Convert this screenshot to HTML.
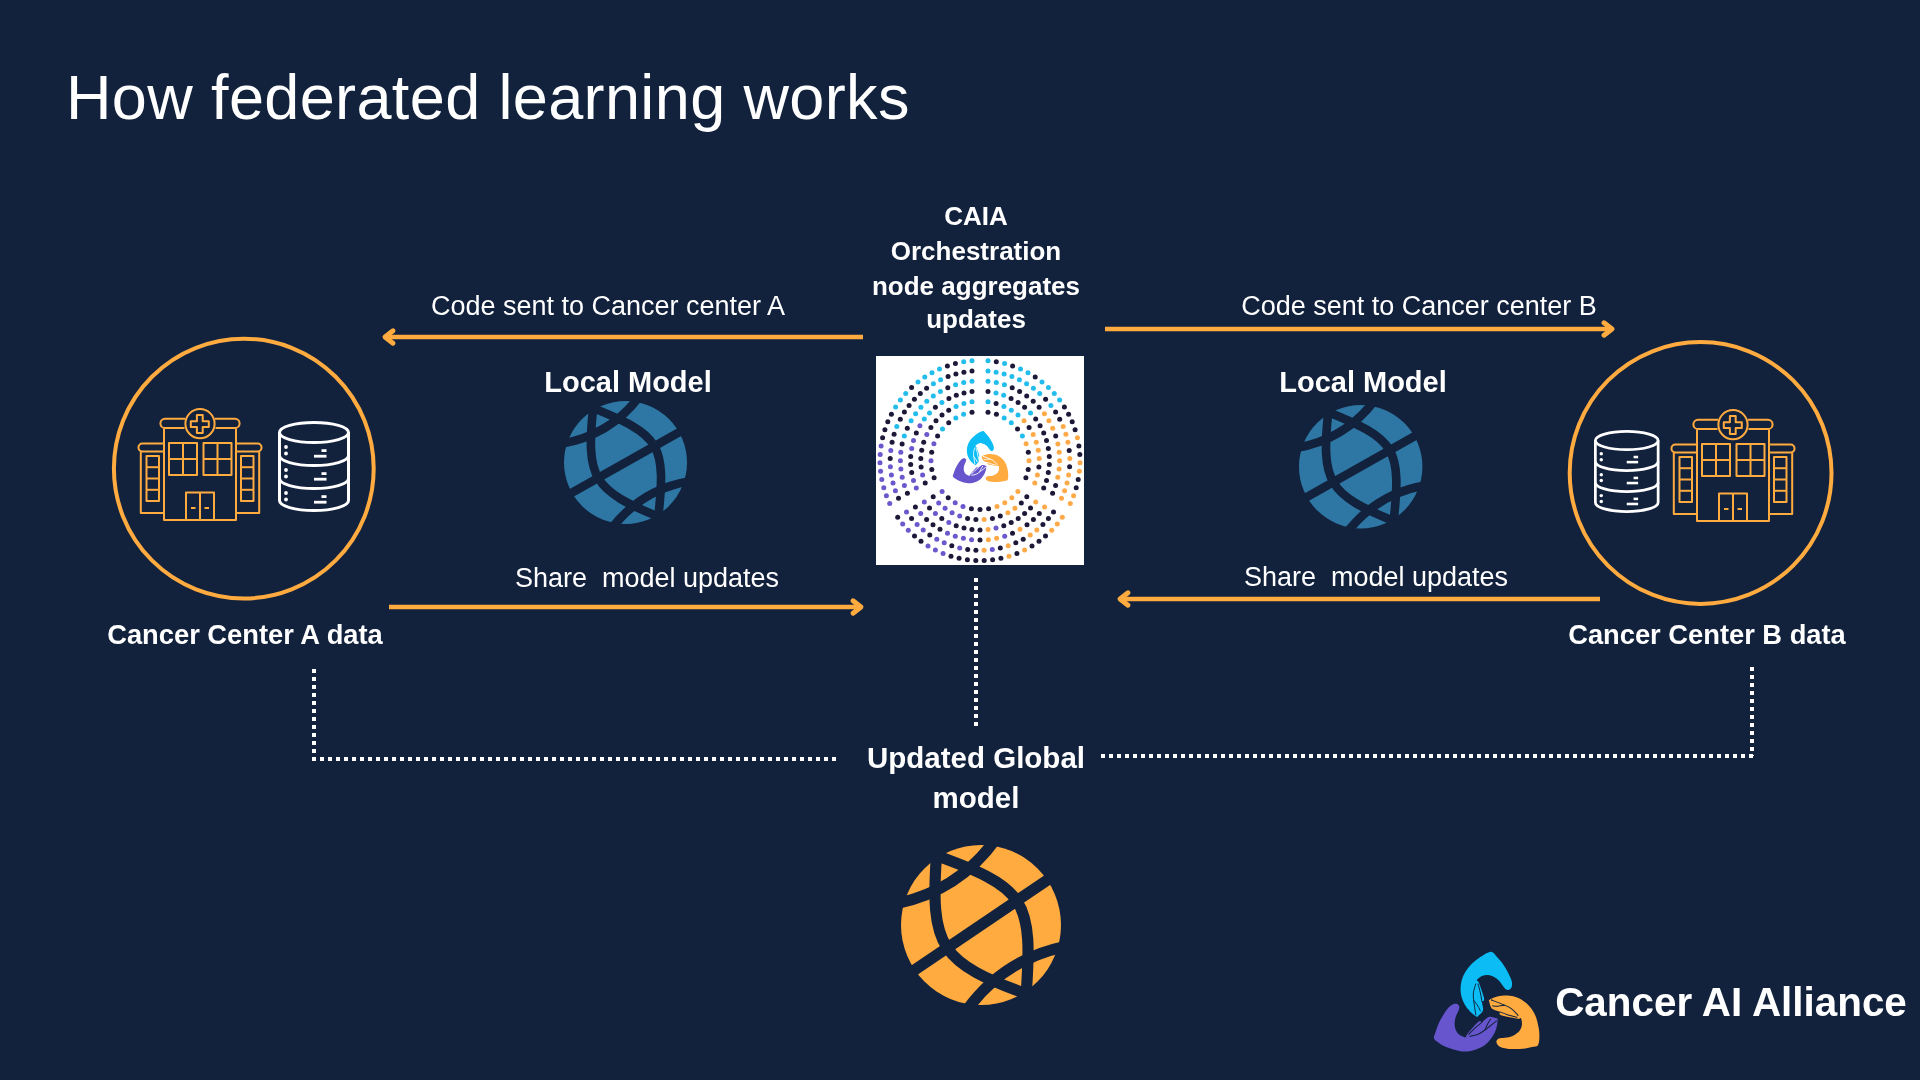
<!DOCTYPE html>
<html><head><meta charset="utf-8"><style>
html,body{margin:0;padding:0;}
body{width:1920px;height:1080px;overflow:hidden;background:#12223d;position:relative;font-family:"Liberation Sans",sans-serif;color:#fff;}
</style></head><body>
<div style="position:absolute;left:65.8px;top:66.07px;font-size:63px;font-weight:normal;letter-spacing:0.37px;white-space:pre;will-change:transform;line-height:1;">How federated learning works</div>
<svg style="position:absolute;left:0;top:0" width="1920" height="1080"><circle cx="243.8" cy="468.6" r="129.9" fill="none" stroke="#ffab40" stroke-width="4"/><circle cx="1700.6" cy="473" r="130.9" fill="none" stroke="#ffab40" stroke-width="4"/></svg>
<svg style="position:absolute;left:138px;top:408px;overflow:visible" width="125" height="113" viewBox="0 0 125 113">
<g fill="none" stroke="#ffab40" stroke-width="2.0" stroke-linejoin="round">
<path d="M 46.5,20 H 27 A 4.6,4.6 0 0 1 27,10.8 H 47"/>
<path d="M 77.5,20 H 97 A 4.6,4.6 0 0 0 97,10.8 H 77"/>
<circle cx="62" cy="15.7" r="14.6"/>
<path d="M 58.9,7.1 H 64.7 V 13.2 H 70.8 V 19 H 64.7 V 25.1 H 58.9 V 19 H 52.8 V 13.2 H 58.9 Z"/>
<path d="M 26,20.5 V 112 H 98 V 20.5"/>
<rect x="31" y="35" width="28" height="32"/>
<line x1="45" y1="35" x2="45" y2="67"/><line x1="31" y1="51" x2="59" y2="51"/>
<rect x="65.5" y="35" width="28" height="32"/>
<line x1="79.5" y1="35" x2="79.5" y2="67"/><line x1="65.5" y1="51" x2="93.5" y2="51"/>
<path d="M 25,43.5 H 4.4 A 3.95,3.95 0 0 1 4.4,35.6 H 25.5"/>
<path d="M 99,43.5 H 119.6 A 3.95,3.95 0 0 0 119.6,35.6 H 98.5"/>
<path d="M 2.8,43.5 V 105 H 25"/>
<path d="M 121.2,43.5 V 105 H 99"/>
<rect x="8.5" y="48" width="12.5" height="45"/>
<line x1="8.5" y1="59.2" x2="21" y2="59.2"/><line x1="8.5" y1="70.5" x2="21" y2="70.5"/><line x1="8.5" y1="81.8" x2="21" y2="81.8"/>
<rect x="103" y="48" width="12.5" height="45"/>
<line x1="103" y1="59.2" x2="115.5" y2="59.2"/><line x1="103" y1="70.5" x2="115.5" y2="70.5"/><line x1="103" y1="81.8" x2="115.5" y2="81.8"/>
<path d="M 48,112 V 84.5 H 76 V 112"/>
<line x1="62" y1="84.5" x2="62" y2="112"/>
<line x1="53" y1="100" x2="57.5" y2="100"/><line x1="66.5" y1="100" x2="71" y2="100"/>
</g></svg>
<svg style="position:absolute;left:278px;top:421px;overflow:visible" width="72" height="91" viewBox="0 0 72 91">
<g fill="none" stroke="#fff" stroke-width="3">
<ellipse cx="36" cy="11.5" rx="34.5" ry="10"/>
<path d="M 1.5,11.5 V 79.5 A 34.5,10 0 0 0 70.5,79.5 V 11.5"/>
<path d="M 1.5,34.5 A 34.5,10 0 0 0 70.5,34.5"/>
<path d="M 1.5,57.5 A 34.5,10 0 0 0 70.5,57.5"/>
</g>
<g fill="#fff">
<circle cx="8" cy="26" r="1.9"/><circle cx="8" cy="32.5" r="1.9"/>
<circle cx="8" cy="49" r="1.9"/><circle cx="8" cy="55.5" r="1.9"/>
<circle cx="8" cy="72" r="1.9"/><circle cx="8" cy="78.5" r="1.9"/>
<rect x="43.5" y="28.2" width="5" height="2.8"/><rect x="36" y="33.8" width="12.5" height="2.8"/>
<rect x="43.5" y="51.2" width="5" height="2.8"/><rect x="36" y="56.8" width="12.5" height="2.8"/>
<rect x="43.5" y="74.2" width="5" height="2.8"/><rect x="36" y="79.8" width="12.5" height="2.8"/>
</g></svg>
<svg style="position:absolute;left:1671px;top:409px;overflow:visible" width="125" height="113" viewBox="0 0 125 113">
<g fill="none" stroke="#ffab40" stroke-width="2.0" stroke-linejoin="round">
<path d="M 46.5,20 H 27 A 4.6,4.6 0 0 1 27,10.8 H 47"/>
<path d="M 77.5,20 H 97 A 4.6,4.6 0 0 0 97,10.8 H 77"/>
<circle cx="62" cy="15.7" r="14.6"/>
<path d="M 58.9,7.1 H 64.7 V 13.2 H 70.8 V 19 H 64.7 V 25.1 H 58.9 V 19 H 52.8 V 13.2 H 58.9 Z"/>
<path d="M 26,20.5 V 112 H 98 V 20.5"/>
<rect x="31" y="35" width="28" height="32"/>
<line x1="45" y1="35" x2="45" y2="67"/><line x1="31" y1="51" x2="59" y2="51"/>
<rect x="65.5" y="35" width="28" height="32"/>
<line x1="79.5" y1="35" x2="79.5" y2="67"/><line x1="65.5" y1="51" x2="93.5" y2="51"/>
<path d="M 25,43.5 H 4.4 A 3.95,3.95 0 0 1 4.4,35.6 H 25.5"/>
<path d="M 99,43.5 H 119.6 A 3.95,3.95 0 0 0 119.6,35.6 H 98.5"/>
<path d="M 2.8,43.5 V 105 H 25"/>
<path d="M 121.2,43.5 V 105 H 99"/>
<rect x="8.5" y="48" width="12.5" height="45"/>
<line x1="8.5" y1="59.2" x2="21" y2="59.2"/><line x1="8.5" y1="70.5" x2="21" y2="70.5"/><line x1="8.5" y1="81.8" x2="21" y2="81.8"/>
<rect x="103" y="48" width="12.5" height="45"/>
<line x1="103" y1="59.2" x2="115.5" y2="59.2"/><line x1="103" y1="70.5" x2="115.5" y2="70.5"/><line x1="103" y1="81.8" x2="115.5" y2="81.8"/>
<path d="M 48,112 V 84.5 H 76 V 112"/>
<line x1="62" y1="84.5" x2="62" y2="112"/>
<line x1="53" y1="100" x2="57.5" y2="100"/><line x1="66.5" y1="100" x2="71" y2="100"/>
</g></svg>
<svg style="position:absolute;left:1594px;top:429.5px;overflow:visible" width="65.5" height="83" viewBox="0 0 72 91">
<g fill="none" stroke="#fff" stroke-width="3">
<ellipse cx="36" cy="11.5" rx="34.5" ry="10"/>
<path d="M 1.5,11.5 V 79.5 A 34.5,10 0 0 0 70.5,79.5 V 11.5"/>
<path d="M 1.5,34.5 A 34.5,10 0 0 0 70.5,34.5"/>
<path d="M 1.5,57.5 A 34.5,10 0 0 0 70.5,57.5"/>
</g>
<g fill="#fff">
<circle cx="8" cy="26" r="1.9"/><circle cx="8" cy="32.5" r="1.9"/>
<circle cx="8" cy="49" r="1.9"/><circle cx="8" cy="55.5" r="1.9"/>
<circle cx="8" cy="72" r="1.9"/><circle cx="8" cy="78.5" r="1.9"/>
<rect x="43.5" y="28.2" width="5" height="2.8"/><rect x="36" y="33.8" width="12.5" height="2.8"/>
<rect x="43.5" y="51.2" width="5" height="2.8"/><rect x="36" y="56.8" width="12.5" height="2.8"/>
<rect x="43.5" y="74.2" width="5" height="2.8"/><rect x="36" y="79.8" width="12.5" height="2.8"/>
</g></svg>
<div style="position:absolute;left:207.5px;top:293.14px;font-size:27px;font-weight:normal;letter-spacing:0px;white-space:pre;will-change:transform;width:800px;text-align:center;line-height:1;">Code sent to Cancer center A</div>
<div style="position:absolute;left:1019.4000000000001px;top:292.74px;font-size:27px;font-weight:normal;letter-spacing:0px;white-space:pre;will-change:transform;width:800px;text-align:center;line-height:1;">Code sent to Cancer center B</div>
<div style="position:absolute;left:575.5px;top:202.89px;font-size:26px;font-weight:bold;letter-spacing:0px;white-space:pre;will-change:transform;width:800px;text-align:center;line-height:1;">CAIA</div>
<div style="position:absolute;left:575.5px;top:238.29px;font-size:26px;font-weight:bold;letter-spacing:0px;white-space:pre;will-change:transform;width:800px;text-align:center;line-height:1;">Orchestration</div>
<div style="position:absolute;left:575.5px;top:272.79px;font-size:26px;font-weight:bold;letter-spacing:0px;white-space:pre;will-change:transform;width:800px;text-align:center;line-height:1;">node aggregates</div>
<div style="position:absolute;left:575.5px;top:306.49px;font-size:26px;font-weight:bold;letter-spacing:0px;white-space:pre;will-change:transform;width:800px;text-align:center;line-height:1;">updates</div>
<div style="position:absolute;left:228.39999999999998px;top:368.15px;font-size:29px;font-weight:bold;letter-spacing:0px;white-space:pre;will-change:transform;width:800px;text-align:center;line-height:1;">Local Model</div>
<div style="position:absolute;left:963.2px;top:368.15px;font-size:29px;font-weight:bold;letter-spacing:0px;white-space:pre;will-change:transform;width:800px;text-align:center;line-height:1;">Local Model</div>
<div style="position:absolute;left:246.60000000000002px;top:564.64px;font-size:27px;font-weight:normal;letter-spacing:0px;white-space:pre;will-change:transform;width:800px;text-align:center;line-height:1;">Share&nbsp; model updates</div>
<div style="position:absolute;left:975.5999999999999px;top:564.14px;font-size:27px;font-weight:normal;letter-spacing:0px;white-space:pre;will-change:transform;width:800px;text-align:center;line-height:1;">Share&nbsp; model updates</div>
<div style="position:absolute;left:-155.5px;top:621.39px;font-size:27.3px;font-weight:bold;letter-spacing:0px;white-space:pre;will-change:transform;width:800px;text-align:center;line-height:1;">Cancer Center A data</div>
<div style="position:absolute;left:1306.9px;top:621.39px;font-size:27.3px;font-weight:bold;letter-spacing:0px;white-space:pre;will-change:transform;width:800px;text-align:center;line-height:1;">Cancer Center B data</div>
<div style="position:absolute;left:576px;top:743.03px;font-size:29.5px;font-weight:bold;letter-spacing:0px;white-space:pre;will-change:transform;width:800px;text-align:center;line-height:1;">Updated Global</div>
<div style="position:absolute;left:575.9px;top:782.83px;font-size:29.5px;font-weight:bold;letter-spacing:0px;white-space:pre;will-change:transform;width:800px;text-align:center;line-height:1;">model</div>
<div style="position:absolute;left:1331.2px;top:981.8px;font-size:40.4px;font-weight:bold;letter-spacing:0px;white-space:pre;will-change:transform;width:800px;text-align:center;line-height:1;">Cancer AI Alliance</div>
<svg style="position:absolute;left:373px;top:325px" width="500" height="24"><line x1="12" y1="12" x2="490" y2="12" stroke="#ffab40" stroke-width="4.4"/><polyline points="20,5.8 12,12 20,18.2" fill="none" stroke="#ffab40" stroke-width="4.9" stroke-linecap="round" stroke-linejoin="round"/></svg>
<svg style="position:absolute;left:1095px;top:317px" width="529" height="24"><line x1="10" y1="12" x2="517" y2="12" stroke="#ffab40" stroke-width="4.4"/><polyline points="509,5.8 517,12 509,18.2" fill="none" stroke="#ffab40" stroke-width="4.9" stroke-linecap="round" stroke-linejoin="round"/></svg>
<svg style="position:absolute;left:379px;top:595.0px" width="494" height="24"><line x1="10" y1="12" x2="482" y2="12" stroke="#ffab40" stroke-width="4.4"/><polyline points="474,5.8 482,12 474,18.2" fill="none" stroke="#ffab40" stroke-width="4.9" stroke-linecap="round" stroke-linejoin="round"/></svg>
<svg style="position:absolute;left:1108px;top:587px" width="502" height="24"><line x1="12" y1="12" x2="492" y2="12" stroke="#ffab40" stroke-width="4.4"/><polyline points="20,5.8 12,12 20,18.2" fill="none" stroke="#ffab40" stroke-width="4.9" stroke-linecap="round" stroke-linejoin="round"/></svg>
<svg style="position:absolute;left:562.4px;top:399.1px" width="127.0" height="127.0" viewBox="-103.252 -103.252 206.504 206.504">
<defs><clipPath id="gb1"><circle cx="0" cy="0" r="102"/></clipPath></defs>
<circle cx="0" cy="0" r="100" fill="#2e76a3"/>
<g clip-path="url(#gb1)" transform="rotate(-31)" fill="none" stroke="#12223d" stroke-width="14">
<line x1="-110" y1="-3" x2="110" y2="3"/>
<path d="M -1,-101 C -31,-61 -51,-30 -51,0 C -51,30 -31,61 -1,101"/><path d="M 2,-101 C 32,-61 54,-30 54,0 C 54,30 32,61 2,101"/>
<path d="M -100,-92 Q 0,-39 100,-92"/>
<path d="M -100,92 Q 0,39 100,92"/>
</g></svg>
<svg style="position:absolute;left:1297.1px;top:403.3px" width="127.4" height="127.4" viewBox="-103.241 -103.241 206.483 206.483">
<defs><clipPath id="gb2"><circle cx="0" cy="0" r="102"/></clipPath></defs>
<circle cx="0" cy="0" r="100" fill="#2e76a3"/>
<g clip-path="url(#gb2)" transform="rotate(-31)" fill="none" stroke="#12223d" stroke-width="14">
<line x1="-110" y1="-3" x2="110" y2="3"/>
<path d="M -1,-101 C -31,-61 -51,-30 -51,0 C -51,30 -31,61 -1,101"/><path d="M 2,-101 C 32,-61 54,-30 54,0 C 54,30 32,61 2,101"/>
<path d="M -100,-92 Q 0,-39 100,-92"/>
<path d="M -100,92 Q 0,39 100,92"/>
</g></svg>
<svg style="position:absolute;left:899.0px;top:842.5px" width="164.0" height="164.0" viewBox="-102.500 -102.500 205.000 205.000">
<defs><clipPath id="go"><circle cx="0" cy="0" r="102"/></clipPath></defs>
<circle cx="0" cy="0" r="100" fill="#ffab40"/>
<g clip-path="url(#go)" transform="rotate(-33)" fill="none" stroke="#12223d" stroke-width="14">
<line x1="-110" y1="2" x2="110" y2="-2"/>
<path d="M -1,-101 C -31,-61 -51,-30 -51,0 C -51,30 -31,61 -1,101"/><path d="M 2,-101 C 32,-61 54,-30 54,0 C 54,30 32,61 2,101"/>
<path d="M -100,-92 Q 0,-39 100,-92"/>
<path d="M -100,92 Q 0,39 100,92"/>
</g></svg>
<svg style="position:absolute;left:876px;top:356px" width="208" height="209" viewBox="0 0 208 209"><rect width="208" height="209" fill="#fff"/><circle cx="112.0" cy="56.2" r="2.5" fill="#1c1838"/>
<circle cx="120.4" cy="58.3" r="2.5" fill="#1c1838"/>
<circle cx="128.2" cy="61.9" r="2.5" fill="#22bdec"/>
<circle cx="135.3" cy="66.8" r="2.5" fill="#22bdec"/>
<circle cx="141.5" cy="72.9" r="2.5" fill="#1c1838"/>
<circle cx="146.4" cy="80.0" r="2.5" fill="#22bdec"/>
<circle cx="150.1" cy="87.8" r="2.5" fill="#ffaa48"/>
<circle cx="152.3" cy="96.2" r="2.5" fill="#1c1838"/>
<circle cx="153.0" cy="104.8" r="2.5" fill="#ffaa48"/>
<circle cx="152.2" cy="113.4" r="2.5" fill="#1c1838"/>
<circle cx="149.9" cy="121.7" r="2.5" fill="#1c1838"/>
<circle cx="141.9" cy="135.6" r="2.5" fill="#ffaa48"/>
<circle cx="135.8" cy="141.8" r="2.5" fill="#ffaa48"/>
<circle cx="128.8" cy="146.8" r="2.5" fill="#ffaa48"/>
<circle cx="121.0" cy="150.5" r="2.5" fill="#ffaa48"/>
<circle cx="112.6" cy="152.7" r="2.5" fill="#1c1838"/>
<circle cx="104.0" cy="153.5" r="2.5" fill="#1c1838"/>
<circle cx="95.4" cy="152.7" r="2.5" fill="#1c1838"/>
<circle cx="87.0" cy="150.5" r="2.5" fill="#6a58cc"/>
<circle cx="79.2" cy="146.8" r="2.5" fill="#6a58cc"/>
<circle cx="72.2" cy="141.8" r="2.5" fill="#1c1838"/>
<circle cx="66.1" cy="135.6" r="2.5" fill="#6a58cc"/>
<circle cx="58.1" cy="121.7" r="2.5" fill="#1c1838"/>
<circle cx="55.8" cy="113.4" r="2.5" fill="#1c1838"/>
<circle cx="55.0" cy="104.8" r="2.5" fill="#6a58cc"/>
<circle cx="55.7" cy="96.2" r="2.5" fill="#1c1838"/>
<circle cx="57.9" cy="87.8" r="2.5" fill="#6a58cc"/>
<circle cx="61.6" cy="80.0" r="2.5" fill="#1c1838"/>
<circle cx="66.5" cy="72.9" r="2.5" fill="#22bdec"/>
<circle cx="72.7" cy="66.8" r="2.5" fill="#1c1838"/>
<circle cx="79.8" cy="61.9" r="2.5" fill="#22bdec"/>
<circle cx="87.6" cy="58.3" r="2.5" fill="#22bdec"/>
<circle cx="96.0" cy="56.2" r="2.5" fill="#1c1838"/>
<circle cx="112.0" cy="45.8" r="2.5" fill="#22bdec"/>
<circle cx="120.1" cy="47.5" r="2.5" fill="#1c1838"/>
<circle cx="127.9" cy="50.4" r="2.5" fill="#22bdec"/>
<circle cx="135.3" cy="54.2" r="2.5" fill="#22bdec"/>
<circle cx="142.0" cy="59.1" r="2.5" fill="#22bdec"/>
<circle cx="148.0" cy="64.8" r="2.5" fill="#ffaa48"/>
<circle cx="153.1" cy="71.4" r="2.5" fill="#1c1838"/>
<circle cx="157.2" cy="78.6" r="2.5" fill="#ffaa48"/>
<circle cx="160.3" cy="86.3" r="2.5" fill="#ffaa48"/>
<circle cx="162.3" cy="94.3" r="2.5" fill="#ffaa48"/>
<circle cx="163.2" cy="102.6" r="2.5" fill="#ffaa48"/>
<circle cx="162.9" cy="110.9" r="2.5" fill="#1c1838"/>
<circle cx="161.4" cy="119.0" r="2.5" fill="#ffaa48"/>
<circle cx="158.8" cy="126.9" r="2.5" fill="#ffaa48"/>
<circle cx="150.8" cy="140.8" r="2.5" fill="#1c1838"/>
<circle cx="145.3" cy="146.9" r="2.5" fill="#1c1838"/>
<circle cx="138.9" cy="152.3" r="2.5" fill="#ffaa48"/>
<circle cx="131.9" cy="156.7" r="2.5" fill="#ffaa48"/>
<circle cx="124.3" cy="160.1" r="2.5" fill="#1c1838"/>
<circle cx="116.4" cy="162.4" r="2.5" fill="#1c1838"/>
<circle cx="108.1" cy="163.6" r="2.5" fill="#ffaa48"/>
<circle cx="99.9" cy="163.6" r="2.5" fill="#1c1838"/>
<circle cx="91.6" cy="162.4" r="2.5" fill="#1c1838"/>
<circle cx="83.7" cy="160.1" r="2.5" fill="#6a58cc"/>
<circle cx="76.1" cy="156.7" r="2.5" fill="#6a58cc"/>
<circle cx="69.1" cy="152.3" r="2.5" fill="#6a58cc"/>
<circle cx="62.7" cy="146.9" r="2.5" fill="#6a58cc"/>
<circle cx="57.2" cy="140.8" r="2.5" fill="#1c1838"/>
<circle cx="49.2" cy="126.9" r="2.5" fill="#1c1838"/>
<circle cx="46.6" cy="119.0" r="2.5" fill="#6a58cc"/>
<circle cx="45.1" cy="110.9" r="2.5" fill="#1c1838"/>
<circle cx="44.8" cy="102.6" r="2.5" fill="#1c1838"/>
<circle cx="45.7" cy="94.3" r="2.5" fill="#1c1838"/>
<circle cx="47.7" cy="86.3" r="2.5" fill="#1c1838"/>
<circle cx="50.8" cy="78.6" r="2.5" fill="#6a58cc"/>
<circle cx="54.9" cy="71.4" r="2.5" fill="#1c1838"/>
<circle cx="60.0" cy="64.8" r="2.5" fill="#1c1838"/>
<circle cx="66.0" cy="59.1" r="2.5" fill="#1c1838"/>
<circle cx="72.7" cy="54.2" r="2.5" fill="#1c1838"/>
<circle cx="80.1" cy="50.4" r="2.5" fill="#22bdec"/>
<circle cx="87.9" cy="47.5" r="2.5" fill="#22bdec"/>
<circle cx="96.0" cy="45.8" r="2.5" fill="#22bdec"/>
<circle cx="112.0" cy="35.6" r="2.5" fill="#1c1838"/>
<circle cx="120.0" cy="37.0" r="2.5" fill="#22bdec"/>
<circle cx="127.7" cy="39.3" r="2.5" fill="#22bdec"/>
<circle cx="135.1" cy="42.5" r="2.5" fill="#1c1838"/>
<circle cx="142.1" cy="46.5" r="2.5" fill="#1c1838"/>
<circle cx="148.6" cy="51.3" r="2.5" fill="#1c1838"/>
<circle cx="154.5" cy="56.9" r="2.5" fill="#22bdec"/>
<circle cx="159.7" cy="63.1" r="2.5" fill="#1c1838"/>
<circle cx="164.1" cy="69.8" r="2.5" fill="#1c1838"/>
<circle cx="167.7" cy="77.0" r="2.5" fill="#1c1838"/>
<circle cx="170.5" cy="84.6" r="2.5" fill="#1c1838"/>
<circle cx="172.3" cy="92.5" r="2.5" fill="#1c1838"/>
<circle cx="173.3" cy="100.5" r="2.5" fill="#1c1838"/>
<circle cx="173.3" cy="108.6" r="2.5" fill="#1c1838"/>
<circle cx="172.3" cy="116.6" r="2.5" fill="#1c1838"/>
<circle cx="170.5" cy="124.5" r="2.5" fill="#1c1838"/>
<circle cx="167.7" cy="132.0" r="2.5" fill="#1c1838"/>
<circle cx="159.7" cy="145.9" r="2.5" fill="#ffaa48"/>
<circle cx="154.5" cy="152.1" r="2.5" fill="#1c1838"/>
<circle cx="148.6" cy="157.6" r="2.5" fill="#1c1838"/>
<circle cx="142.2" cy="162.5" r="2.5" fill="#1c1838"/>
<circle cx="135.2" cy="166.5" r="2.5" fill="#1c1838"/>
<circle cx="127.8" cy="169.7" r="2.5" fill="#1c1838"/>
<circle cx="120.0" cy="172.0" r="2.5" fill="#6a58cc"/>
<circle cx="112.1" cy="173.4" r="2.5" fill="#ffaa48"/>
<circle cx="104.0" cy="173.9" r="2.5" fill="#1c1838"/>
<circle cx="95.9" cy="173.4" r="2.5" fill="#1c1838"/>
<circle cx="88.0" cy="172.0" r="2.5" fill="#1c1838"/>
<circle cx="80.2" cy="169.7" r="2.5" fill="#1c1838"/>
<circle cx="72.8" cy="166.5" r="2.5" fill="#6a58cc"/>
<circle cx="65.8" cy="162.5" r="2.5" fill="#1c1838"/>
<circle cx="59.4" cy="157.6" r="2.5" fill="#6a58cc"/>
<circle cx="53.5" cy="152.1" r="2.5" fill="#1c1838"/>
<circle cx="48.3" cy="145.9" r="2.5" fill="#6a58cc"/>
<circle cx="40.3" cy="132.0" r="2.5" fill="#6a58cc"/>
<circle cx="37.5" cy="124.5" r="2.5" fill="#6a58cc"/>
<circle cx="35.7" cy="116.6" r="2.5" fill="#1c1838"/>
<circle cx="34.7" cy="108.6" r="2.5" fill="#1c1838"/>
<circle cx="34.7" cy="100.5" r="2.5" fill="#1c1838"/>
<circle cx="35.7" cy="92.5" r="2.5" fill="#6a58cc"/>
<circle cx="37.5" cy="84.6" r="2.5" fill="#6a58cc"/>
<circle cx="40.3" cy="77.0" r="2.5" fill="#1c1838"/>
<circle cx="43.9" cy="69.8" r="2.5" fill="#6a58cc"/>
<circle cx="48.3" cy="63.1" r="2.5" fill="#22bdec"/>
<circle cx="53.5" cy="56.9" r="2.5" fill="#22bdec"/>
<circle cx="59.4" cy="51.3" r="2.5" fill="#1c1838"/>
<circle cx="65.9" cy="46.5" r="2.5" fill="#22bdec"/>
<circle cx="72.9" cy="42.5" r="2.5" fill="#1c1838"/>
<circle cx="80.3" cy="39.3" r="2.5" fill="#1c1838"/>
<circle cx="88.0" cy="37.0" r="2.5" fill="#1c1838"/>
<circle cx="96.0" cy="35.6" r="2.5" fill="#1c1838"/>
<circle cx="112.0" cy="25.3" r="2.5" fill="#22bdec"/>
<circle cx="120.3" cy="26.6" r="2.5" fill="#22bdec"/>
<circle cx="128.4" cy="28.7" r="2.5" fill="#22bdec"/>
<circle cx="136.2" cy="31.7" r="2.5" fill="#1c1838"/>
<circle cx="143.6" cy="35.5" r="2.5" fill="#1c1838"/>
<circle cx="150.7" cy="40.0" r="2.5" fill="#1c1838"/>
<circle cx="157.2" cy="45.3" r="2.5" fill="#1c1838"/>
<circle cx="163.1" cy="51.2" r="2.5" fill="#1c1838"/>
<circle cx="168.4" cy="57.7" r="2.5" fill="#ffaa48"/>
<circle cx="172.9" cy="64.7" r="2.5" fill="#ffaa48"/>
<circle cx="176.7" cy="72.2" r="2.5" fill="#ffaa48"/>
<circle cx="179.7" cy="80.0" r="2.5" fill="#1c1838"/>
<circle cx="181.9" cy="88.1" r="2.5" fill="#ffaa48"/>
<circle cx="183.2" cy="96.3" r="2.5" fill="#ffaa48"/>
<circle cx="183.6" cy="104.7" r="2.5" fill="#ffaa48"/>
<circle cx="183.1" cy="113.0" r="2.5" fill="#ffaa48"/>
<circle cx="181.8" cy="121.3" r="2.5" fill="#ffaa48"/>
<circle cx="179.6" cy="129.4" r="2.5" fill="#1c1838"/>
<circle cx="176.6" cy="137.2" r="2.5" fill="#1c1838"/>
<circle cx="168.6" cy="151.0" r="2.5" fill="#ffaa48"/>
<circle cx="163.3" cy="157.5" r="2.5" fill="#1c1838"/>
<circle cx="157.4" cy="163.5" r="2.5" fill="#1c1838"/>
<circle cx="151.0" cy="168.8" r="2.5" fill="#1c1838"/>
<circle cx="144.0" cy="173.3" r="2.5" fill="#ffaa48"/>
<circle cx="136.5" cy="177.2" r="2.5" fill="#1c1838"/>
<circle cx="128.7" cy="180.2" r="2.5" fill="#6a58cc"/>
<circle cx="120.6" cy="182.3" r="2.5" fill="#ffaa48"/>
<circle cx="112.4" cy="183.7" r="2.5" fill="#ffaa48"/>
<circle cx="104.0" cy="184.1" r="2.5" fill="#1c1838"/>
<circle cx="95.6" cy="183.7" r="2.5" fill="#6a58cc"/>
<circle cx="87.4" cy="182.3" r="2.5" fill="#6a58cc"/>
<circle cx="79.3" cy="180.2" r="2.5" fill="#6a58cc"/>
<circle cx="71.5" cy="177.2" r="2.5" fill="#6a58cc"/>
<circle cx="64.0" cy="173.3" r="2.5" fill="#1c1838"/>
<circle cx="57.0" cy="168.8" r="2.5" fill="#1c1838"/>
<circle cx="50.6" cy="163.5" r="2.5" fill="#1c1838"/>
<circle cx="44.7" cy="157.5" r="2.5" fill="#6a58cc"/>
<circle cx="39.4" cy="151.0" r="2.5" fill="#1c1838"/>
<circle cx="31.4" cy="137.2" r="2.5" fill="#1c1838"/>
<circle cx="28.4" cy="129.4" r="2.5" fill="#6a58cc"/>
<circle cx="26.2" cy="121.3" r="2.5" fill="#6a58cc"/>
<circle cx="24.9" cy="113.0" r="2.5" fill="#6a58cc"/>
<circle cx="24.4" cy="104.7" r="2.5" fill="#6a58cc"/>
<circle cx="24.8" cy="96.3" r="2.5" fill="#6a58cc"/>
<circle cx="26.1" cy="88.1" r="2.5" fill="#1c1838"/>
<circle cx="28.3" cy="80.0" r="2.5" fill="#22bdec"/>
<circle cx="31.3" cy="72.2" r="2.5" fill="#1c1838"/>
<circle cx="35.1" cy="64.7" r="2.5" fill="#22bdec"/>
<circle cx="39.6" cy="57.7" r="2.5" fill="#22bdec"/>
<circle cx="44.9" cy="51.2" r="2.5" fill="#22bdec"/>
<circle cx="50.8" cy="45.3" r="2.5" fill="#22bdec"/>
<circle cx="57.3" cy="40.0" r="2.5" fill="#22bdec"/>
<circle cx="64.4" cy="35.5" r="2.5" fill="#22bdec"/>
<circle cx="71.8" cy="31.7" r="2.5" fill="#1c1838"/>
<circle cx="79.6" cy="28.7" r="2.5" fill="#22bdec"/>
<circle cx="87.7" cy="26.6" r="2.5" fill="#22bdec"/>
<circle cx="96.0" cy="25.3" r="2.5" fill="#22bdec"/>
<circle cx="112.0" cy="15.1" r="2.5" fill="#22bdec"/>
<circle cx="120.1" cy="16.2" r="2.5" fill="#22bdec"/>
<circle cx="128.1" cy="18.0" r="2.5" fill="#22bdec"/>
<circle cx="135.9" cy="20.5" r="2.5" fill="#22bdec"/>
<circle cx="143.4" cy="23.8" r="2.5" fill="#22bdec"/>
<circle cx="150.6" cy="27.7" r="2.5" fill="#22bdec"/>
<circle cx="157.4" cy="32.3" r="2.5" fill="#22bdec"/>
<circle cx="163.7" cy="37.5" r="2.5" fill="#22bdec"/>
<circle cx="169.6" cy="43.2" r="2.5" fill="#1c1838"/>
<circle cx="174.9" cy="49.4" r="2.5" fill="#22bdec"/>
<circle cx="179.6" cy="56.1" r="2.5" fill="#1c1838"/>
<circle cx="183.7" cy="63.2" r="2.5" fill="#1c1838"/>
<circle cx="187.2" cy="70.6" r="2.5" fill="#ffaa48"/>
<circle cx="189.9" cy="78.3" r="2.5" fill="#ffaa48"/>
<circle cx="191.9" cy="86.3" r="2.5" fill="#ffaa48"/>
<circle cx="193.2" cy="94.4" r="2.5" fill="#1c1838"/>
<circle cx="193.8" cy="102.5" r="2.5" fill="#ffaa48"/>
<circle cx="193.6" cy="110.7" r="2.5" fill="#1c1838"/>
<circle cx="192.6" cy="118.9" r="2.5" fill="#ffaa48"/>
<circle cx="191.0" cy="126.9" r="2.5" fill="#ffaa48"/>
<circle cx="188.6" cy="134.7" r="2.5" fill="#ffaa48"/>
<circle cx="185.5" cy="142.3" r="2.5" fill="#ffaa48"/>
<circle cx="177.5" cy="156.1" r="2.5" fill="#1c1838"/>
<circle cx="172.4" cy="162.6" r="2.5" fill="#1c1838"/>
<circle cx="166.9" cy="168.6" r="2.5" fill="#1c1838"/>
<circle cx="160.8" cy="174.1" r="2.5" fill="#ffaa48"/>
<circle cx="154.2" cy="179.0" r="2.5" fill="#ffaa48"/>
<circle cx="147.2" cy="183.2" r="2.5" fill="#1c1838"/>
<circle cx="139.8" cy="186.8" r="2.5" fill="#1c1838"/>
<circle cx="132.2" cy="189.8" r="2.5" fill="#ffaa48"/>
<circle cx="124.3" cy="192.0" r="2.5" fill="#1c1838"/>
<circle cx="116.3" cy="193.5" r="2.5" fill="#6a58cc"/>
<circle cx="108.1" cy="194.2" r="2.5" fill="#ffaa48"/>
<circle cx="99.9" cy="194.2" r="2.5" fill="#1c1838"/>
<circle cx="91.7" cy="193.5" r="2.5" fill="#1c1838"/>
<circle cx="83.7" cy="192.0" r="2.5" fill="#6a58cc"/>
<circle cx="75.8" cy="189.8" r="2.5" fill="#1c1838"/>
<circle cx="68.2" cy="186.8" r="2.5" fill="#6a58cc"/>
<circle cx="60.8" cy="183.2" r="2.5" fill="#6a58cc"/>
<circle cx="53.8" cy="179.0" r="2.5" fill="#1c1838"/>
<circle cx="47.2" cy="174.1" r="2.5" fill="#6a58cc"/>
<circle cx="41.1" cy="168.6" r="2.5" fill="#6a58cc"/>
<circle cx="35.6" cy="162.6" r="2.5" fill="#1c1838"/>
<circle cx="30.5" cy="156.1" r="2.5" fill="#6a58cc"/>
<circle cx="22.5" cy="142.3" r="2.5" fill="#1c1838"/>
<circle cx="19.4" cy="134.7" r="2.5" fill="#6a58cc"/>
<circle cx="17.0" cy="126.9" r="2.5" fill="#6a58cc"/>
<circle cx="15.4" cy="118.9" r="2.5" fill="#6a58cc"/>
<circle cx="14.4" cy="110.7" r="2.5" fill="#6a58cc"/>
<circle cx="14.2" cy="102.5" r="2.5" fill="#1c1838"/>
<circle cx="14.8" cy="94.4" r="2.5" fill="#6a58cc"/>
<circle cx="16.1" cy="86.3" r="2.5" fill="#1c1838"/>
<circle cx="18.1" cy="78.3" r="2.5" fill="#1c1838"/>
<circle cx="20.8" cy="70.6" r="2.5" fill="#22bdec"/>
<circle cx="24.3" cy="63.2" r="2.5" fill="#1c1838"/>
<circle cx="28.4" cy="56.1" r="2.5" fill="#1c1838"/>
<circle cx="33.1" cy="49.4" r="2.5" fill="#1c1838"/>
<circle cx="38.4" cy="43.2" r="2.5" fill="#1c1838"/>
<circle cx="44.3" cy="37.5" r="2.5" fill="#1c1838"/>
<circle cx="50.6" cy="32.3" r="2.5" fill="#1c1838"/>
<circle cx="57.4" cy="27.7" r="2.5" fill="#22bdec"/>
<circle cx="64.6" cy="23.8" r="2.5" fill="#22bdec"/>
<circle cx="72.1" cy="20.5" r="2.5" fill="#1c1838"/>
<circle cx="79.9" cy="18.0" r="2.5" fill="#1c1838"/>
<circle cx="87.9" cy="16.2" r="2.5" fill="#1c1838"/>
<circle cx="96.0" cy="15.1" r="2.5" fill="#1c1838"/>
<circle cx="112.0" cy="4.8" r="2.5" fill="#22bdec"/>
<circle cx="120.3" cy="5.8" r="2.5" fill="#1c1838"/>
<circle cx="128.6" cy="7.6" r="2.5" fill="#22bdec"/>
<circle cx="136.6" cy="10.0" r="2.5" fill="#1c1838"/>
<circle cx="144.5" cy="13.0" r="2.5" fill="#22bdec"/>
<circle cx="152.0" cy="16.8" r="2.5" fill="#22bdec"/>
<circle cx="159.2" cy="21.1" r="2.5" fill="#1c1838"/>
<circle cx="166.0" cy="26.0" r="2.5" fill="#22bdec"/>
<circle cx="172.4" cy="31.5" r="2.5" fill="#22bdec"/>
<circle cx="178.3" cy="37.5" r="2.5" fill="#22bdec"/>
<circle cx="183.6" cy="44.0" r="2.5" fill="#22bdec"/>
<circle cx="188.4" cy="50.9" r="2.5" fill="#1c1838"/>
<circle cx="192.6" cy="58.2" r="2.5" fill="#1c1838"/>
<circle cx="196.2" cy="65.8" r="2.5" fill="#1c1838"/>
<circle cx="199.1" cy="73.7" r="2.5" fill="#1c1838"/>
<circle cx="201.4" cy="81.8" r="2.5" fill="#ffaa48"/>
<circle cx="202.9" cy="90.0" r="2.5" fill="#1c1838"/>
<circle cx="203.8" cy="98.4" r="2.5" fill="#1c1838"/>
<circle cx="204.0" cy="106.8" r="2.5" fill="#ffaa48"/>
<circle cx="203.4" cy="115.2" r="2.5" fill="#ffaa48"/>
<circle cx="202.2" cy="123.5" r="2.5" fill="#1c1838"/>
<circle cx="200.2" cy="131.7" r="2.5" fill="#1c1838"/>
<circle cx="197.6" cy="139.7" r="2.5" fill="#ffaa48"/>
<circle cx="194.3" cy="147.4" r="2.5" fill="#ffaa48"/>
<circle cx="186.3" cy="161.3" r="2.5" fill="#ffaa48"/>
<circle cx="181.3" cy="168.0" r="2.5" fill="#ffaa48"/>
<circle cx="175.7" cy="174.2" r="2.5" fill="#ffaa48"/>
<circle cx="169.5" cy="180.0" r="2.5" fill="#1c1838"/>
<circle cx="163.0" cy="185.3" r="2.5" fill="#1c1838"/>
<circle cx="156.0" cy="189.9" r="2.5" fill="#1c1838"/>
<circle cx="148.6" cy="194.0" r="2.5" fill="#ffaa48"/>
<circle cx="140.9" cy="197.4" r="2.5" fill="#1c1838"/>
<circle cx="133.0" cy="200.2" r="2.5" fill="#ffaa48"/>
<circle cx="124.9" cy="202.3" r="2.5" fill="#1c1838"/>
<circle cx="116.6" cy="203.7" r="2.5" fill="#1c1838"/>
<circle cx="108.2" cy="204.4" r="2.5" fill="#1c1838"/>
<circle cx="99.8" cy="204.4" r="2.5" fill="#1c1838"/>
<circle cx="91.4" cy="203.7" r="2.5" fill="#1c1838"/>
<circle cx="83.1" cy="202.3" r="2.5" fill="#1c1838"/>
<circle cx="75.0" cy="200.2" r="2.5" fill="#1c1838"/>
<circle cx="67.1" cy="197.4" r="2.5" fill="#6a58cc"/>
<circle cx="59.4" cy="194.0" r="2.5" fill="#6a58cc"/>
<circle cx="52.0" cy="189.9" r="2.5" fill="#6a58cc"/>
<circle cx="45.0" cy="185.3" r="2.5" fill="#1c1838"/>
<circle cx="38.5" cy="180.0" r="2.5" fill="#1c1838"/>
<circle cx="32.3" cy="174.2" r="2.5" fill="#6a58cc"/>
<circle cx="26.7" cy="168.0" r="2.5" fill="#6a58cc"/>
<circle cx="21.7" cy="161.3" r="2.5" fill="#1c1838"/>
<circle cx="13.7" cy="147.4" r="2.5" fill="#6a58cc"/>
<circle cx="10.4" cy="139.7" r="2.5" fill="#6a58cc"/>
<circle cx="7.8" cy="131.7" r="2.5" fill="#6a58cc"/>
<circle cx="5.8" cy="123.5" r="2.5" fill="#6a58cc"/>
<circle cx="4.6" cy="115.2" r="2.5" fill="#6a58cc"/>
<circle cx="4.0" cy="106.8" r="2.5" fill="#6a58cc"/>
<circle cx="4.2" cy="98.4" r="2.5" fill="#6a58cc"/>
<circle cx="5.1" cy="90.0" r="2.5" fill="#6a58cc"/>
<circle cx="6.6" cy="81.8" r="2.5" fill="#1c1838"/>
<circle cx="8.9" cy="73.7" r="2.5" fill="#1c1838"/>
<circle cx="11.8" cy="65.8" r="2.5" fill="#1c1838"/>
<circle cx="15.4" cy="58.2" r="2.5" fill="#1c1838"/>
<circle cx="19.6" cy="50.9" r="2.5" fill="#22bdec"/>
<circle cx="24.4" cy="44.0" r="2.5" fill="#22bdec"/>
<circle cx="29.7" cy="37.5" r="2.5" fill="#22bdec"/>
<circle cx="35.6" cy="31.5" r="2.5" fill="#1c1838"/>
<circle cx="42.0" cy="26.0" r="2.5" fill="#22bdec"/>
<circle cx="48.8" cy="21.1" r="2.5" fill="#22bdec"/>
<circle cx="56.0" cy="16.8" r="2.5" fill="#22bdec"/>
<circle cx="63.5" cy="13.0" r="2.5" fill="#22bdec"/>
<circle cx="71.4" cy="10.0" r="2.5" fill="#1c1838"/>
<circle cx="79.4" cy="7.6" r="2.5" fill="#1c1838"/>
<circle cx="87.7" cy="5.8" r="2.5" fill="#22bdec"/>
<circle cx="96.0" cy="4.8" r="2.5" fill="#22bdec"/><g transform="translate(105.20000000000005,106.5) scale(0.525)"><g transform="rotate(0)"><path d="M -11.00,4.90 C -12.10,4.30 -14.73,2.58 -16.60,0.80 C -18.47,-0.98 -20.58,-3.17 -22.20,-5.80 C -23.82,-8.43 -25.45,-11.95 -26.30,-15.00 C -27.15,-18.05 -27.47,-20.88 -27.30,-24.10 C -27.13,-27.32 -26.48,-31.07 -25.30,-34.30 C -24.12,-37.53 -22.42,-40.62 -20.20,-43.50 C -17.98,-46.38 -14.72,-49.32 -12.00,-51.60 C -9.28,-53.88 -6.53,-55.80 -3.90,-57.20 C -1.27,-58.60 1.75,-60.25 3.80,-60.00 C 5.85,-59.75 6.62,-57.60 8.40,-55.70 C 10.18,-53.80 12.55,-51.32 14.50,-48.60 C 16.45,-45.88 18.58,-42.28 20.10,-39.40 C 21.62,-36.52 22.93,-33.50 23.60,-31.30 C 24.27,-29.10 24.35,-27.65 24.10,-26.20 C 23.85,-24.75 22.95,-23.28 22.10,-22.60 C 21.25,-21.92 20.02,-21.75 19.00,-22.10 C 17.98,-22.45 17.27,-23.25 16.00,-24.70 C 14.73,-26.15 13.02,-29.12 11.40,-30.80 C 9.78,-32.48 8.17,-33.78 6.30,-34.80 C 4.43,-35.82 2.23,-36.72 0.20,-36.90 C -1.83,-37.08 -4.03,-36.75 -5.90,-35.90 C -7.77,-35.05 -10.48,-32.92 -11.00,-31.80 C -11.52,-30.68 -10.10,-31.83 -9.00,-29.20 C -7.90,-26.57 -5.25,-18.97 -4.40,-16.00 C -3.55,-13.03 -3.65,-12.42 -3.90,-11.40 C -4.15,-10.38 -5.73,-11.52 -5.90,-9.90 C -6.07,-8.28 -4.22,-4.08 -4.90,-1.70 C -5.58,0.68 -8.98,3.30 -10.00,4.40 C -11.02,5.50 -9.90,5.50 -11.00,4.90 Z" fill="#0bbdf4"/><g fill="none" stroke="#fff" stroke-width="1.6"><path d="M -12.00,-28.30 C -12.42,-26.75 -14.17,-22.07 -14.50,-19.00 C -14.83,-15.93 -14.42,-13.63 -14.00,-9.90 C -13.58,-6.17 -12.33,1.18 -12.00,3.40 "/><path d="M -10.00,-28.30 C -9.58,-26.75 -8.18,-22.07 -7.50,-19.00 C -6.82,-15.93 -6.17,-11.42 -5.90,-9.90 "/><path d="M -14.00,-11.40 C -13.33,-10.47 -11.10,-7.58 -10.00,-5.80 C -8.90,-4.02 -7.83,-1.55 -7.40,-0.70 "/></g></g><g transform="rotate(120)"><path d="M -11.00,4.90 C -12.10,4.30 -14.73,2.58 -16.60,0.80 C -18.47,-0.98 -20.58,-3.17 -22.20,-5.80 C -23.82,-8.43 -25.45,-11.95 -26.30,-15.00 C -27.15,-18.05 -27.47,-20.88 -27.30,-24.10 C -27.13,-27.32 -26.48,-31.07 -25.30,-34.30 C -24.12,-37.53 -22.42,-40.62 -20.20,-43.50 C -17.98,-46.38 -14.72,-49.32 -12.00,-51.60 C -9.28,-53.88 -6.53,-55.80 -3.90,-57.20 C -1.27,-58.60 1.75,-60.25 3.80,-60.00 C 5.85,-59.75 6.62,-57.60 8.40,-55.70 C 10.18,-53.80 12.55,-51.32 14.50,-48.60 C 16.45,-45.88 18.58,-42.28 20.10,-39.40 C 21.62,-36.52 22.93,-33.50 23.60,-31.30 C 24.27,-29.10 24.35,-27.65 24.10,-26.20 C 23.85,-24.75 22.95,-23.28 22.10,-22.60 C 21.25,-21.92 20.02,-21.75 19.00,-22.10 C 17.98,-22.45 17.27,-23.25 16.00,-24.70 C 14.73,-26.15 13.02,-29.12 11.40,-30.80 C 9.78,-32.48 8.17,-33.78 6.30,-34.80 C 4.43,-35.82 2.23,-36.72 0.20,-36.90 C -1.83,-37.08 -4.03,-36.75 -5.90,-35.90 C -7.77,-35.05 -10.48,-32.92 -11.00,-31.80 C -11.52,-30.68 -10.10,-31.83 -9.00,-29.20 C -7.90,-26.57 -5.25,-18.97 -4.40,-16.00 C -3.55,-13.03 -3.65,-12.42 -3.90,-11.40 C -4.15,-10.38 -5.73,-11.52 -5.90,-9.90 C -6.07,-8.28 -4.22,-4.08 -4.90,-1.70 C -5.58,0.68 -8.98,3.30 -10.00,4.40 C -11.02,5.50 -9.90,5.50 -11.00,4.90 Z" fill="#ffab40"/><g fill="none" stroke="#fff" stroke-width="1.6"><path d="M -12.00,-28.30 C -12.42,-26.75 -14.17,-22.07 -14.50,-19.00 C -14.83,-15.93 -14.42,-13.63 -14.00,-9.90 C -13.58,-6.17 -12.33,1.18 -12.00,3.40 "/><path d="M -10.00,-28.30 C -9.58,-26.75 -8.18,-22.07 -7.50,-19.00 C -6.82,-15.93 -6.17,-11.42 -5.90,-9.90 "/><path d="M -14.00,-11.40 C -13.33,-10.47 -11.10,-7.58 -10.00,-5.80 C -8.90,-4.02 -7.83,-1.55 -7.40,-0.70 "/></g></g><g transform="rotate(240)"><path d="M -11.00,4.90 C -12.10,4.30 -14.73,2.58 -16.60,0.80 C -18.47,-0.98 -20.58,-3.17 -22.20,-5.80 C -23.82,-8.43 -25.45,-11.95 -26.30,-15.00 C -27.15,-18.05 -27.47,-20.88 -27.30,-24.10 C -27.13,-27.32 -26.48,-31.07 -25.30,-34.30 C -24.12,-37.53 -22.42,-40.62 -20.20,-43.50 C -17.98,-46.38 -14.72,-49.32 -12.00,-51.60 C -9.28,-53.88 -6.53,-55.80 -3.90,-57.20 C -1.27,-58.60 1.75,-60.25 3.80,-60.00 C 5.85,-59.75 6.62,-57.60 8.40,-55.70 C 10.18,-53.80 12.55,-51.32 14.50,-48.60 C 16.45,-45.88 18.58,-42.28 20.10,-39.40 C 21.62,-36.52 22.93,-33.50 23.60,-31.30 C 24.27,-29.10 24.35,-27.65 24.10,-26.20 C 23.85,-24.75 22.95,-23.28 22.10,-22.60 C 21.25,-21.92 20.02,-21.75 19.00,-22.10 C 17.98,-22.45 17.27,-23.25 16.00,-24.70 C 14.73,-26.15 13.02,-29.12 11.40,-30.80 C 9.78,-32.48 8.17,-33.78 6.30,-34.80 C 4.43,-35.82 2.23,-36.72 0.20,-36.90 C -1.83,-37.08 -4.03,-36.75 -5.90,-35.90 C -7.77,-35.05 -10.48,-32.92 -11.00,-31.80 C -11.52,-30.68 -10.10,-31.83 -9.00,-29.20 C -7.90,-26.57 -5.25,-18.97 -4.40,-16.00 C -3.55,-13.03 -3.65,-12.42 -3.90,-11.40 C -4.15,-10.38 -5.73,-11.52 -5.90,-9.90 C -6.07,-8.28 -4.22,-4.08 -4.90,-1.70 C -5.58,0.68 -8.98,3.30 -10.00,4.40 C -11.02,5.50 -9.90,5.50 -11.00,4.90 Z" fill="#6655cc"/><g fill="none" stroke="#fff" stroke-width="1.6"><path d="M -12.00,-28.30 C -12.42,-26.75 -14.17,-22.07 -14.50,-19.00 C -14.83,-15.93 -14.42,-13.63 -14.00,-9.90 C -13.58,-6.17 -12.33,1.18 -12.00,3.40 "/><path d="M -10.00,-28.30 C -9.58,-26.75 -8.18,-22.07 -7.50,-19.00 C -6.82,-15.93 -6.17,-11.42 -5.90,-9.90 "/><path d="M -14.00,-11.40 C -13.33,-10.47 -11.10,-7.58 -10.00,-5.80 C -8.90,-4.02 -7.83,-1.55 -7.40,-0.70 "/></g></g></g></svg>
<svg style="position:absolute;left:1420px;top:940px" width="130" height="125" viewBox="1420 940 130 125"><g transform="translate(1487.9,1011.9) scale(1.0)"><g transform="rotate(0)"><path d="M -11.00,4.90 C -12.10,4.30 -14.73,2.58 -16.60,0.80 C -18.47,-0.98 -20.58,-3.17 -22.20,-5.80 C -23.82,-8.43 -25.45,-11.95 -26.30,-15.00 C -27.15,-18.05 -27.47,-20.88 -27.30,-24.10 C -27.13,-27.32 -26.48,-31.07 -25.30,-34.30 C -24.12,-37.53 -22.42,-40.62 -20.20,-43.50 C -17.98,-46.38 -14.72,-49.32 -12.00,-51.60 C -9.28,-53.88 -6.53,-55.80 -3.90,-57.20 C -1.27,-58.60 1.75,-60.25 3.80,-60.00 C 5.85,-59.75 6.62,-57.60 8.40,-55.70 C 10.18,-53.80 12.55,-51.32 14.50,-48.60 C 16.45,-45.88 18.58,-42.28 20.10,-39.40 C 21.62,-36.52 22.93,-33.50 23.60,-31.30 C 24.27,-29.10 24.35,-27.65 24.10,-26.20 C 23.85,-24.75 22.95,-23.28 22.10,-22.60 C 21.25,-21.92 20.02,-21.75 19.00,-22.10 C 17.98,-22.45 17.27,-23.25 16.00,-24.70 C 14.73,-26.15 13.02,-29.12 11.40,-30.80 C 9.78,-32.48 8.17,-33.78 6.30,-34.80 C 4.43,-35.82 2.23,-36.72 0.20,-36.90 C -1.83,-37.08 -4.03,-36.75 -5.90,-35.90 C -7.77,-35.05 -10.48,-32.92 -11.00,-31.80 C -11.52,-30.68 -10.10,-31.83 -9.00,-29.20 C -7.90,-26.57 -5.25,-18.97 -4.40,-16.00 C -3.55,-13.03 -3.65,-12.42 -3.90,-11.40 C -4.15,-10.38 -5.73,-11.52 -5.90,-9.90 C -6.07,-8.28 -4.22,-4.08 -4.90,-1.70 C -5.58,0.68 -8.98,3.30 -10.00,4.40 C -11.02,5.50 -9.90,5.50 -11.00,4.90 Z" fill="#0bbdf4"/><g fill="none" stroke="#12223d" stroke-width="1.0"><path d="M -12.00,-28.30 C -12.42,-26.75 -14.17,-22.07 -14.50,-19.00 C -14.83,-15.93 -14.42,-13.63 -14.00,-9.90 C -13.58,-6.17 -12.33,1.18 -12.00,3.40 "/><path d="M -10.00,-28.30 C -9.58,-26.75 -8.18,-22.07 -7.50,-19.00 C -6.82,-15.93 -6.17,-11.42 -5.90,-9.90 "/><path d="M -14.00,-11.40 C -13.33,-10.47 -11.10,-7.58 -10.00,-5.80 C -8.90,-4.02 -7.83,-1.55 -7.40,-0.70 "/></g></g><g transform="rotate(120)"><path d="M -11.00,4.90 C -12.10,4.30 -14.73,2.58 -16.60,0.80 C -18.47,-0.98 -20.58,-3.17 -22.20,-5.80 C -23.82,-8.43 -25.45,-11.95 -26.30,-15.00 C -27.15,-18.05 -27.47,-20.88 -27.30,-24.10 C -27.13,-27.32 -26.48,-31.07 -25.30,-34.30 C -24.12,-37.53 -22.42,-40.62 -20.20,-43.50 C -17.98,-46.38 -14.72,-49.32 -12.00,-51.60 C -9.28,-53.88 -6.53,-55.80 -3.90,-57.20 C -1.27,-58.60 1.75,-60.25 3.80,-60.00 C 5.85,-59.75 6.62,-57.60 8.40,-55.70 C 10.18,-53.80 12.55,-51.32 14.50,-48.60 C 16.45,-45.88 18.58,-42.28 20.10,-39.40 C 21.62,-36.52 22.93,-33.50 23.60,-31.30 C 24.27,-29.10 24.35,-27.65 24.10,-26.20 C 23.85,-24.75 22.95,-23.28 22.10,-22.60 C 21.25,-21.92 20.02,-21.75 19.00,-22.10 C 17.98,-22.45 17.27,-23.25 16.00,-24.70 C 14.73,-26.15 13.02,-29.12 11.40,-30.80 C 9.78,-32.48 8.17,-33.78 6.30,-34.80 C 4.43,-35.82 2.23,-36.72 0.20,-36.90 C -1.83,-37.08 -4.03,-36.75 -5.90,-35.90 C -7.77,-35.05 -10.48,-32.92 -11.00,-31.80 C -11.52,-30.68 -10.10,-31.83 -9.00,-29.20 C -7.90,-26.57 -5.25,-18.97 -4.40,-16.00 C -3.55,-13.03 -3.65,-12.42 -3.90,-11.40 C -4.15,-10.38 -5.73,-11.52 -5.90,-9.90 C -6.07,-8.28 -4.22,-4.08 -4.90,-1.70 C -5.58,0.68 -8.98,3.30 -10.00,4.40 C -11.02,5.50 -9.90,5.50 -11.00,4.90 Z" fill="#ffab40"/><g fill="none" stroke="#12223d" stroke-width="1.0"><path d="M -12.00,-28.30 C -12.42,-26.75 -14.17,-22.07 -14.50,-19.00 C -14.83,-15.93 -14.42,-13.63 -14.00,-9.90 C -13.58,-6.17 -12.33,1.18 -12.00,3.40 "/><path d="M -10.00,-28.30 C -9.58,-26.75 -8.18,-22.07 -7.50,-19.00 C -6.82,-15.93 -6.17,-11.42 -5.90,-9.90 "/><path d="M -14.00,-11.40 C -13.33,-10.47 -11.10,-7.58 -10.00,-5.80 C -8.90,-4.02 -7.83,-1.55 -7.40,-0.70 "/></g></g><g transform="rotate(240)"><path d="M -11.00,4.90 C -12.10,4.30 -14.73,2.58 -16.60,0.80 C -18.47,-0.98 -20.58,-3.17 -22.20,-5.80 C -23.82,-8.43 -25.45,-11.95 -26.30,-15.00 C -27.15,-18.05 -27.47,-20.88 -27.30,-24.10 C -27.13,-27.32 -26.48,-31.07 -25.30,-34.30 C -24.12,-37.53 -22.42,-40.62 -20.20,-43.50 C -17.98,-46.38 -14.72,-49.32 -12.00,-51.60 C -9.28,-53.88 -6.53,-55.80 -3.90,-57.20 C -1.27,-58.60 1.75,-60.25 3.80,-60.00 C 5.85,-59.75 6.62,-57.60 8.40,-55.70 C 10.18,-53.80 12.55,-51.32 14.50,-48.60 C 16.45,-45.88 18.58,-42.28 20.10,-39.40 C 21.62,-36.52 22.93,-33.50 23.60,-31.30 C 24.27,-29.10 24.35,-27.65 24.10,-26.20 C 23.85,-24.75 22.95,-23.28 22.10,-22.60 C 21.25,-21.92 20.02,-21.75 19.00,-22.10 C 17.98,-22.45 17.27,-23.25 16.00,-24.70 C 14.73,-26.15 13.02,-29.12 11.40,-30.80 C 9.78,-32.48 8.17,-33.78 6.30,-34.80 C 4.43,-35.82 2.23,-36.72 0.20,-36.90 C -1.83,-37.08 -4.03,-36.75 -5.90,-35.90 C -7.77,-35.05 -10.48,-32.92 -11.00,-31.80 C -11.52,-30.68 -10.10,-31.83 -9.00,-29.20 C -7.90,-26.57 -5.25,-18.97 -4.40,-16.00 C -3.55,-13.03 -3.65,-12.42 -3.90,-11.40 C -4.15,-10.38 -5.73,-11.52 -5.90,-9.90 C -6.07,-8.28 -4.22,-4.08 -4.90,-1.70 C -5.58,0.68 -8.98,3.30 -10.00,4.40 C -11.02,5.50 -9.90,5.50 -11.00,4.90 Z" fill="#6655cc"/><g fill="none" stroke="#12223d" stroke-width="1.0"><path d="M -12.00,-28.30 C -12.42,-26.75 -14.17,-22.07 -14.50,-19.00 C -14.83,-15.93 -14.42,-13.63 -14.00,-9.90 C -13.58,-6.17 -12.33,1.18 -12.00,3.40 "/><path d="M -10.00,-28.30 C -9.58,-26.75 -8.18,-22.07 -7.50,-19.00 C -6.82,-15.93 -6.17,-11.42 -5.90,-9.90 "/><path d="M -14.00,-11.40 C -13.33,-10.47 -11.10,-7.58 -10.00,-5.80 C -8.90,-4.02 -7.83,-1.55 -7.40,-0.70 "/></g></g></g></svg>
<div style="position:absolute;left:973.5px;top:578px;width:4px;height:150px;background:repeating-linear-gradient(180deg,#fff 0 4px,transparent 4px 8px)"></div>
<div style="position:absolute;left:312.4px;top:668.7px;width:4px;height:91.29999999999995px;background:repeating-linear-gradient(180deg,#fff 0 4px,transparent 4px 8px)"></div>
<div style="position:absolute;left:312.4px;top:757.3px;width:528.1px;height:4px;background:repeating-linear-gradient(90deg,#fff 0 4px,transparent 4px 8px)"></div>
<div style="position:absolute;left:1750px;top:666.6px;width:4px;height:89.39999999999998px;background:repeating-linear-gradient(180deg,#fff 0 4px,transparent 4px 8px)"></div>
<div style="position:absolute;left:1101px;top:753.6px;width:653px;height:4px;background:repeating-linear-gradient(90deg,#fff 0 4px,transparent 4px 8px)"></div>
</body></html>
